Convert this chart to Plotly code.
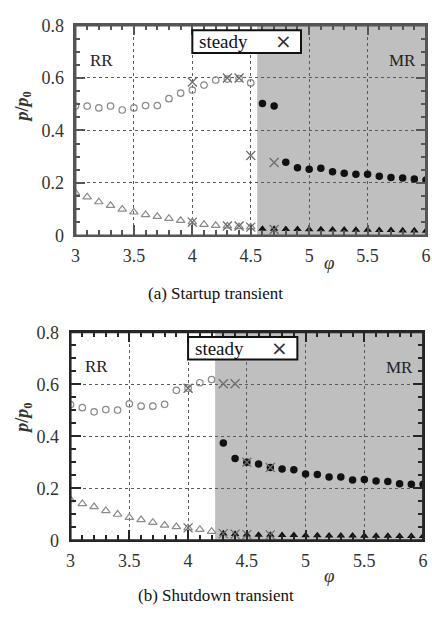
import plotly.graph_objects as go

# ---- (a) startup transient ----
phi_rr_a = [3.0, 3.1, 3.2, 3.3, 3.4, 3.5, 3.6, 3.7, 3.8, 3.9, 4.0, 4.1, 4.2, 4.3, 4.4, 4.5]
p_rr_hi_a = [0.493, 0.493, 0.486, 0.493, 0.478, 0.486, 0.495, 0.495, 0.521, 0.542,
             0.554, 0.573, 0.592, 0.596, 0.598, 0.581]
p_rr_lo_a = [0.162, 0.147, 0.128, 0.114, 0.100, 0.089, 0.079, 0.072, 0.065, 0.057,
             0.051, 0.042, 0.038, 0.036, 0.033, 0.032]
phi_mr_a = [4.6, 4.7, 4.8, 4.9, 5.0, 5.1, 5.2, 5.3, 5.4, 5.5, 5.6, 5.7, 5.8, 5.9, 6.0]
p_mr_hi_a = [0.503, 0.493, 0.279, 0.258, 0.252, 0.256, 0.243, 0.237, 0.233, 0.233,
             0.226, 0.221, 0.219, 0.215, 0.211]
p_mr_lo_a = [0.025, 0.025, 0.024, 0.024, 0.023, 0.023, 0.022, 0.022, 0.021, 0.021,
             0.020, 0.020, 0.019, 0.019, 0.018]
phi_st_a = [4.0, 4.3, 4.4, 4.5, 4.7]
p_st_hi_a = [0.585, 0.600, 0.600, 0.305, 0.278]
p_st_lo_a = [0.051, 0.036, 0.036, 0.032, 0.023]
mr_start_a = 4.555

# ---- (b) shutdown transient ----
phi_rr_b = [3.0, 3.1, 3.2, 3.3, 3.4, 3.5, 3.6, 3.7, 3.8, 3.9, 4.0, 4.1, 4.2]
p_rr_hi_b = [0.522, 0.510, 0.494, 0.503, 0.501, 0.525, 0.516, 0.516, 0.523, 0.577,
             0.585, 0.606, 0.618]
p_rr_lo_b = [0.156, 0.141, 0.129, 0.114, 0.100, 0.088, 0.079, 0.069, 0.058, 0.052,
             0.048, 0.042, 0.034]
phi_mr_b = [4.3, 4.4, 4.5, 4.6, 4.7, 4.8, 4.9, 5.0, 5.1, 5.2, 5.3, 5.4, 5.5, 5.6,
            5.7, 5.8, 5.9, 6.0]
p_mr_hi_b = [0.374, 0.315, 0.300, 0.294, 0.280, 0.274, 0.271, 0.255, 0.253, 0.244,
             0.244, 0.232, 0.234, 0.228, 0.226, 0.218, 0.216, 0.216]
p_mr_lo_b = [0.026, 0.024, 0.022, 0.021, 0.021, 0.020, 0.020, 0.019, 0.019, 0.018,
             0.018, 0.018, 0.017, 0.017, 0.017, 0.016, 0.016, 0.016]
phi_st_b = [4.0, 4.3, 4.4, 4.5, 4.7]
p_st_hi_b = [0.585, 0.602, 0.602, 0.300, 0.280]
p_st_lo_b = [0.048, 0.026, 0.024, 0.022, 0.021]
mr_start_b = 4.23

captions = ["(a) Startup transient", "(b) Shutdown transient"]

FONT = "Liberation Serif"
W, H = 432, 621

panels = [
    dict(xa="x", ya="y", phi_rr=phi_rr_a, rr_hi=p_rr_hi_a, rr_lo=p_rr_lo_a,
         phi_mr=phi_mr_a, mr_hi=p_mr_hi_a, mr_lo=p_mr_lo_a,
         phi_st=phi_st_a, st_hi=p_st_hi_a, st_lo=p_st_lo_a, mr0=mr_start_a,
         px=(73, 431), py=(16, 233), axcol="#555555", cap_y=293, phi_y=261, yt_y=0.49),
    dict(xa="x2", ya="y2", phi_rr=phi_rr_b, rr_hi=p_rr_hi_b, rr_lo=p_rr_lo_b,
         phi_mr=phi_mr_b, mr_hi=p_mr_hi_b, mr_lo=p_mr_lo_b,
         phi_st=phi_st_b, st_hi=p_st_hi_b, st_lo=p_st_lo_b, mr0=mr_start_b,
         px=(68, 428), py=(333, 548), axcol="#262626", cap_y=605, phi_y=584, yt_y=0.47),
]

fig = go.Figure()
shapes, annotations = [], []
layout_axes = {}

open_grey = "#8a8a8a"
for i, p in enumerate(panels):
    xa, ya = p["xa"], p["ya"]
    common = dict(xaxis=xa, yaxis=ya, mode="markers", showlegend=False)
    # regular reflection: open markers
    fig.add_trace(go.Scatter(x=p["phi_rr"], y=p["rr_hi"], marker=dict(
        symbol="circle-open", size=6.5, color=open_grey, line=dict(width=1.2)), **common))
    fig.add_trace(go.Scatter(x=p["phi_rr"], y=p["rr_lo"], marker=dict(
        symbol="triangle-up-open", size=7.5, color=open_grey, line=dict(width=1.2)), **common))
    # Mach reflection: filled markers
    fig.add_trace(go.Scatter(x=p["phi_mr"], y=p["mr_hi"], marker=dict(
        symbol="circle", size=7.5, color="#111111"), **common))
    fig.add_trace(go.Scatter(x=p["phi_mr"], y=p["mr_lo"], marker=dict(
        symbol="triangle-up", size=7.5, color="#111111"), **common))
    # steady-state values
    for ys in (p["st_hi"], p["st_lo"]):
        fig.add_trace(go.Scatter(x=p["phi_st"], y=ys, marker=dict(
            symbol="x-thin", size=9, color="#6e6e6e", line=dict(width=1.3, color="#6e6e6e")),
            **common))

    x0, x1 = p["px"]
    y0, y1 = p["py"]
    dom_x = [x0 / W, x1 / W]
    dom_y = [1 - y1 / H, 1 - y0 / H]
    sfx = "" if i == 0 else "2"
    axcol = p["axcol"]
    layout_axes["xaxis" + sfx] = dict(
        domain=dom_x, range=[3, 6], anchor=ya, tickmode="linear", tick0=3, dtick=0.5,
        ticks="inside", ticklen=10, tickwidth=2, tickcolor=axcol,
        minor=dict(tickmode="linear", tick0=3, dtick=0.1, ticks="inside", ticklen=5,
                   tickwidth=1.6, tickcolor=axcol, showgrid=False),
        showline=True, linecolor=axcol, linewidth=2, mirror="ticks",
        showgrid=True, gridcolor="#5a5a5a", griddash="dot", gridwidth=1.2,
        zeroline=False, tickfont=dict(family=FONT, size=18, color="#333333"),
        ticklabelstandoff=3,
    )
    layout_axes["yaxis" + sfx] = dict(
        domain=dom_y, range=[0, 0.8], anchor=xa, tickmode="linear", tick0=0, dtick=0.2,
        ticks="inside", ticklen=10, tickwidth=2, tickcolor=axcol,
        minor=dict(tickmode="linear", tick0=0, dtick=0.05, ticks="inside", ticklen=5,
                   tickwidth=1.6, tickcolor=axcol, showgrid=False),
        showline=True, linecolor=axcol, linewidth=2, mirror="ticks",
        showgrid=True, gridcolor="#5a5a5a", griddash="dot", gridwidth=1.2,
        zeroline=False, tickfont=dict(family=FONT, size=18, color="#333333"),
        ticklabelstandoff=6,
    )

    # Mach-reflection region shading
    shapes.append(dict(type="rect", xref=xa, yref=ya, x0=p["mr0"], x1=6, y0=0, y1=0.8,
                       fillcolor="#bfbfbf", line=dict(width=0), layer="below"))
    # plot frame
    shapes.append(dict(type="rect", xref=xa + " domain", yref=ya + " domain",
                       x0=0, x1=1, y0=0, y1=1, fillcolor="rgba(0,0,0,0)",
                       line=dict(color=axcol, width=2), layer="above"))
    # key box for steady values
    shapes.append(dict(type="rect", xref=xa, yref=ya, x0=4.0, x1=4.93, y0=0.695, y1=0.782,
                       fillcolor="white", line=dict(color="#111111", width=2), layer="above"))
    annotations.append(dict(xref=xa, yref=ya, x=4.04, y=0.739, text="steady",
                            showarrow=False, xanchor="left", yanchor="middle",
                            font=dict(family=FONT, size=19, color="#111111")))
    annotations.append(dict(xref=xa, yref=ya, x=4.78, y=0.741, text="\u00d7",
                            showarrow=False, xanchor="center", yanchor="middle",
                            font=dict(family="DejaVu Sans", size=20, color="#333333")))
    # regime labels
    annotations.append(dict(xref=xa, yref=ya, x=3.22, y=0.667, text="RR", showarrow=False,
                            font=dict(family=FONT, size=17, color="#222222")))
    annotations.append(dict(xref=xa, yref=ya, x=5.80, y=0.665, text="MR", showarrow=False,
                            font=dict(family=FONT, size=17, color="#222222")))
    # axis titles
    annotations.append(dict(xref="paper", yref=ya, x=20 / W, y=p["yt_y"],
                            text="<b><i>p</i>/<i>p</i><sub>0</sub></b>", textangle=-90,
                            showarrow=False, xanchor="center", yanchor="middle",
                            font=dict(family=FONT, size=18, color="#333333")))
    annotations.append(dict(xref="paper", yref="paper", x=332 / W, y=1 - p["phi_y"] / H,
                            text="<i>\u03c6</i>", showarrow=False, xanchor="center",
                            yanchor="middle", font=dict(family=FONT, size=19, color="#333333")))
    annotations.append(dict(xref="paper", yref="paper", x=216 / W, y=1 - p["cap_y"] / H,
                            text=captions[i], showarrow=False, xanchor="center",
                            yanchor="middle", font=dict(family=FONT, size=17, color="#111111")))

fig.update_layout(
    width=W, height=H, margin=dict(l=0, r=0, t=0, b=0),
    plot_bgcolor="white",
    shapes=shapes, annotations=annotations, **layout_axes,
)

fig.write_html("out.html")
